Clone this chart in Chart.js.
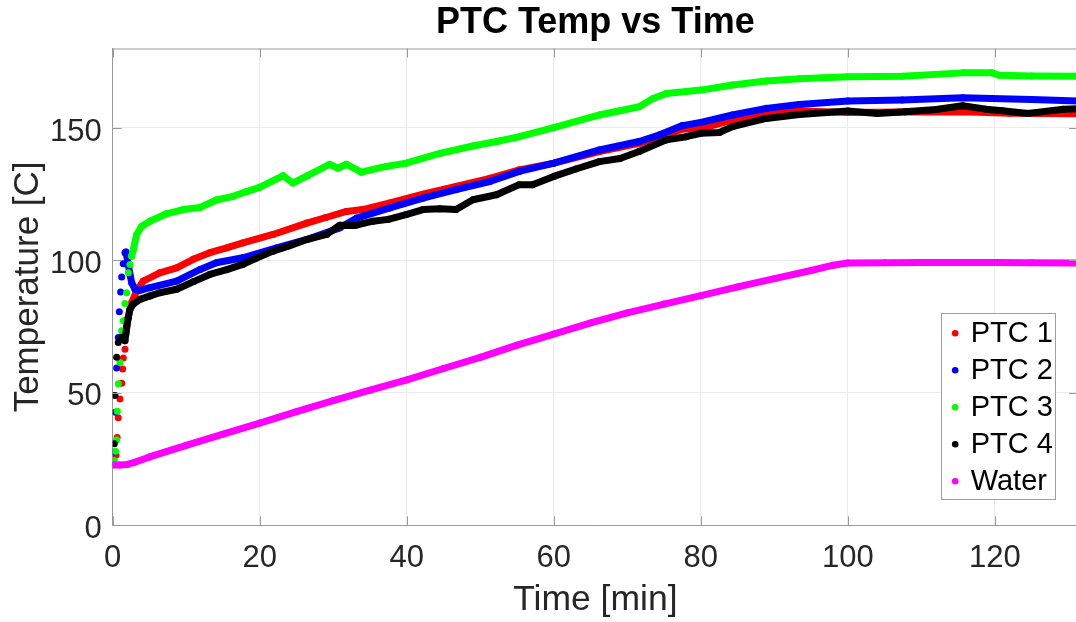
<!DOCTYPE html>
<html>
<head>
<meta charset="utf-8">
<script src="https://cdn.jsdelivr.net/npm/chart.js@4.4.1/dist/chart.umd.min.js"></script>
<style>
  html, body { margin: 0; padding: 0; overflow: hidden; background: #fff; }
  #wrap { width: 1082px; height: 622px; }
</style>
</head>
<body>
<div id="wrap"><canvas id="ptcChart"></canvas></div>
<script>
// values (time in min, temperature in C)
const timePTC1 = [0.45, 0.6, 0.75, 0.99, 1.22, 1.36, 1.44, 1.67, 1.8, 2.1, 2.58, 3.26, 4.16, 6.4, 8.7, 10.95, 13.2, 15.5, 17.7, 21.8, 26.4, 29, 31.8, 34, 37.7, 42.2, 46.7, 51.3, 55.3, 60, 66.2, 71.6, 75.3, 77.5, 80, 84.3, 88.9, 93.4, 100, 107, 115.6, 122, 131.3];
const tempPTC1 = [26.4, 33.1, 40.6, 47.7, 53.6, 59, 63.2, 66.5, 72.2, 78.4, 84.1, 88.5, 92.2, 95.3, 97.2, 100.4, 102.9, 104.7, 106.6, 109.8, 114.1, 116.2, 118.5, 119.2, 121.7, 125, 127.9, 131, 134.2, 136.7, 141.1, 144.2, 147.4, 149.6, 149.8, 153, 155.5, 156.4, 155.8, 156, 156.1, 155.6, 155.4];

const timePTC2 = [0.22, 0.35, 0.54, 0.76, 0.9, 1.08, 1.22, 1.44, 1.67, 1.8, 2.12, 2.35, 2.58, 3.03, 3.7, 5.07, 8.7, 11.9, 14.1, 17.7, 22.3, 26.4, 30.9, 33.2, 37.7, 42.2, 46.7, 51.3, 55.3, 60, 66.2, 71.6, 74.4, 77.5, 80, 84.3, 88.9, 93.4, 100, 107.4, 115.6, 119.6, 125, 131.3];
const tempPTC2 = [27.7, 42.7, 59.4, 70.9, 80.6, 88.1, 93.7, 98.7, 102.9, 103.2, 98.5, 94.7, 91.6, 89.1, 88.7, 89.7, 92.2, 96.6, 99.1, 101, 104.7, 107.9, 112.3, 116, 119.8, 123.5, 126.7, 129.8, 133.6, 136.7, 141.7, 144.9, 147.4, 150.9, 152.1, 154.9, 157.4, 158.9, 160.2, 160.6, 161.4, 161.1, 160.7, 160.2];

const timePTC3 = [0.2, 0.4, 0.54, 0.63, 0.76, 0.99, 1.22, 1.44, 1.67, 1.9, 2.12, 2.35, 2.58, 2.8, 3.26, 3.94, 5.07, 7.3, 9.6, 11.9, 14.1, 16.4, 18.2, 19.9, 23.2, 24.5, 26.5, 29.5, 30.6, 31.8, 33.8, 37.2, 39.9, 44.5, 49, 52.6, 55.3, 60, 66.2, 71.6, 73.5, 75.3, 80, 84.3, 88.9, 93.4, 100, 107.4, 115.6, 119.6, 120.6, 125, 131.3];
const tempPTC3 = [24.5, 28, 32.3, 43.1, 53.4, 61.5, 73.4, 77.2, 83.7, 87.8, 95.3, 98.5, 101.6, 104, 109.8, 112.9, 114.8, 117.6, 119.2, 120, 122.8, 124.2, 126, 127.5, 132, 129.2, 132, 136.3, 134.8, 136.3, 133.3, 135.5, 136.7, 140.4, 143.2, 145.1, 146.7, 150.1, 154.9, 158, 161.1, 163, 164.3, 166.2, 167.7, 168.6, 169.3, 169.5, 170.8, 170.8, 169.9, 169.6, 169.5];

const timePTC4 = [0.22, 0.31, 0.54, 0.76, 0.99, 1.22, 1.44, 1.67, 1.9, 2.12, 2.35, 2.8, 3.7, 5.07, 6.4, 8.7, 11, 13.2, 15.5, 17.7, 19.5, 21.8, 24, 26.4, 29.1, 30.9, 33, 35.4, 37.5, 39.9, 42.2, 44.5, 46.7, 49, 52.2, 55.3, 57.1, 60, 63, 66.2, 69, 71.6, 75.3, 78, 80, 82.5, 84.3, 88.9, 93.4, 100, 104, 107.8, 112, 115.6, 118.8, 121, 124.5, 129.3, 131.3];
const tempPTC4 = [30.8, 49, 63.4, 69, 70.3, 71, 70.7, 69.7, 74.9, 78.4, 81.6, 83.5, 85.3, 86.6, 87.8, 89.1, 92, 94.7, 96.5, 98.5, 100.8, 103.5, 105.5, 107.9, 109.8, 113.3, 113.2, 114.8, 115.5, 117.3, 119.2, 119.5, 119.2, 122.9, 124.8, 128.6, 128.6, 131.7, 134.5, 137.3, 138.5, 141.1, 145.5, 146.7, 148, 148.3, 150.5, 153.6, 155.1, 156.4, 155.5, 156.1, 157, 158.4, 157.1, 156.5, 155.5, 157.1, 157.3];

const timeWater = [0, 1, 2, 3, 5, 10, 15, 20, 25, 30, 35, 40, 45, 50, 55, 60, 65, 70, 75, 80, 85, 90, 95, 98, 100, 105, 110, 115, 120, 125, 131.3];
const tempWater = [22.8, 22.8, 23, 23.8, 25.8, 30.2, 34.4, 38.6, 42.9, 47.1, 51, 54.9, 59.2, 63.4, 68, 72.2, 76.4, 80.2, 83.5, 86.7, 90, 93.1, 96.2, 98.2, 99, 99.1, 99.2, 99.2, 99.2, 99.1, 99];

const xTicks = [0, 20, 40, 60, 80, 100, 120];
const yTicks = [0, 50, 100, 150];

const fontFamily = '"Liberation Sans", Arial, Helvetica, sans-serif';
const axisColor = '#9a9a9a';

function makeSeries(label, times, temps, color, sparseUntil, order) {
  return {
    label: label,
    data: times.map((t, i) => ({ x: t, y: temps[i] })),
    showLine: true,
    borderColor: color,
    backgroundColor: color,
    borderWidth: 7,
    borderJoinStyle: 'round',
    borderCapStyle: 'round',
    pointRadius: 3.5,
    pointBorderWidth: 0,
    pointBackgroundColor: color,
    tension: 0,
    order: order,
    // early readings are sparse dots, not a solid trace
    segment: {
      borderColor: ctx => ctx.p1.parsed.x <= sparseUntil ? 'rgba(0,0,0,0)' : color
    }
  };
}

// inward ticks and the top box edge, like the original plot
const boxTicks = {
  id: 'boxTicks',
  afterDraw(chart) {
    const { ctx, chartArea: a, scales: { x, y } } = chart;
    const len = 9;
    ctx.save();
    ctx.strokeStyle = axisColor;
    ctx.lineWidth = 1;
    ctx.beginPath();
    ctx.moveTo(a.left, a.top + 0.5);
    ctx.lineTo(a.right, a.top + 0.5);
    ctx.moveTo(a.right - 0.5, a.top);
    ctx.lineTo(a.right - 0.5, a.bottom);
    xTicks.forEach(v => {
      const px = Math.round(x.getPixelForValue(v)) + 0.5;
      ctx.moveTo(px, a.bottom);
      ctx.lineTo(px, a.bottom - len);
      ctx.moveTo(px, a.top);
      ctx.lineTo(px, a.top + len);
    });
    yTicks.forEach(v => {
      const py = Math.round(y.getPixelForValue(v)) + 0.5;
      ctx.moveTo(a.left, py);
      ctx.lineTo(a.left + len, py);
      ctx.moveTo(a.right, py);
      ctx.lineTo(a.right - len, py);
    });
    ctx.stroke();
    ctx.restore();
  }
};

// legend box inside the lower right of the axes
const boxLegend = {
  id: 'boxLegend',
  afterDraw(chart) {
    const { ctx, chartArea: a } = chart;
    const w = 114, h = 186;
    const left = a.right - 23.3 - w;
    const top = a.bottom - 26 - h;
    ctx.save();
    ctx.fillStyle = '#fff';
    ctx.fillRect(left, top, w, h);
    ctx.strokeStyle = '#a0a0a0';
    ctx.lineWidth = 1;
    ctx.strokeRect(Math.round(left) + 0.5, Math.round(top) + 0.5, w, h);
    ctx.font = '29px ' + fontFamily;
    ctx.textBaseline = 'middle';
    ctx.textAlign = 'left';
    chart.data.datasets.forEach((ds, i) => {
      const cy = top + 20 + i * 37;
      ctx.fillStyle = ds.borderColor;
      ctx.beginPath();
      ctx.arc(left + 14.5, cy, 3.3, 0, Math.PI * 2);
      ctx.fill();
      ctx.fillStyle = '#000';
      ctx.fillText(ds.label, left + 30, cy + 1);
    });
    ctx.restore();
  }
};

new Chart(document.getElementById('ptcChart'), {
  type: 'scatter',
  data: {
    datasets: [
      makeSeries('PTC 1', timePTC1, tempPTC1, '#ff0000', 2.0, 5),
      makeSeries('PTC 2', timePTC2, tempPTC2, '#0000ff', 2.0, 4),
      makeSeries('PTC 3', timePTC3, tempPTC3, '#00ff00', 2.6, 3),
      makeSeries('PTC 4', timePTC4, tempPTC4, '#000000', 1.8, 2),
      makeSeries('Water', timeWater, tempWater, '#ff00ff', -1, 1)
    ]
  },
  options: {
    responsive: true,
    maintainAspectRatio: false,
    animation: false,
    devicePixelRatio: 1,
    layout: { padding: { left: 0, right: 3, top: 0, bottom: 0 } },
    plugins: {
      legend: { display: false },
      tooltip: { enabled: false },
      title: {
        display: true,
        fullSize: false,
        text: 'PTC Temp vs Time',
        color: '#000',
        font: { family: fontFamily, size: 36, weight: 'bold' },
        padding: { top: 1.5, bottom: 3.8 }
      }
    },
    scales: {
      x: {
        type: 'linear',
        min: 0,
        max: 131.3,
        afterBuildTicks: s => { s.ticks = xTicks.map(v => ({ value: v })); },
        afterFit: s => { s.height = 96.7; },
        ticks: {
          color: '#262626',
          font: { family: fontFamily, size: 31 },
          padding: 15,
          maxRotation: 0
        },
        grid: { color: '#ebebeb', drawTicks: false },
        border: { color: axisColor },
        title: {
          display: true,
          text: 'Time [min]',
          color: '#262626',
          font: { family: fontFamily, size: 35.5 },
          padding: { top: 0, bottom: 0 }
        }
      },
      y: {
        type: 'linear',
        min: 0,
        max: 180,
        afterBuildTicks: s => { s.ticks = yTicks.map(v => ({ value: v })); },
        afterFit: s => { s.width = 112.7; },
        ticks: {
          color: '#262626',
          font: { family: fontFamily, size: 31 },
          padding: 11,
          labelOffset: 4
        },
        grid: { color: '#ebebeb', drawTicks: false },
        border: { color: axisColor },
        title: {
          display: true,
          text: 'Temperature [C]',
          color: '#262626',
          font: { family: fontFamily, size: 35 },
          padding: { top: 7, bottom: 0 }
        }
      }
    }
  },
  plugins: [boxTicks, boxLegend]
});
</script>
</body>
</html>
